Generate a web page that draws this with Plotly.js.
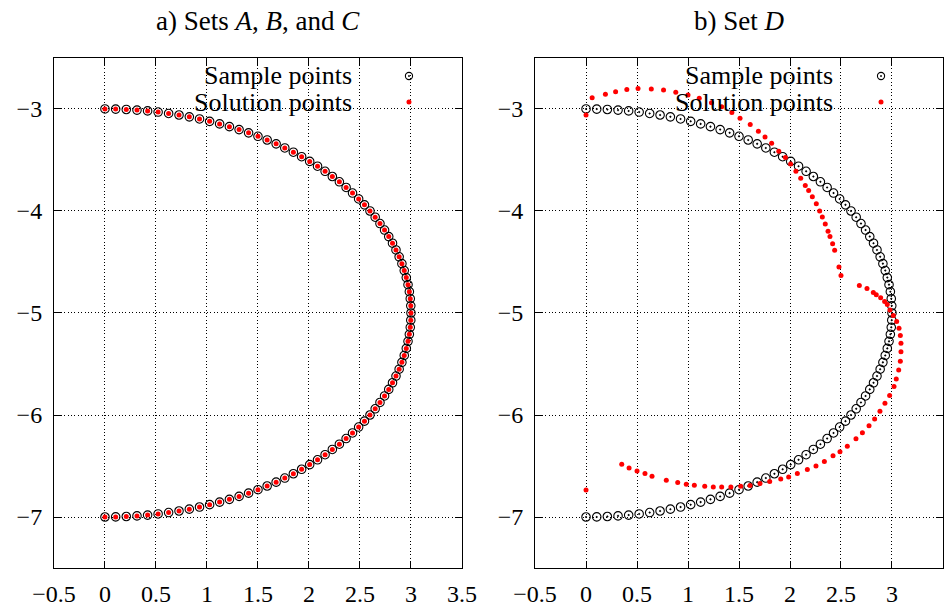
<!DOCTYPE html>
<html>
<head>
<meta charset="utf-8">
<script src="https://cdn.plot.ly/plotly-3.0.1.min.js"></script>
<style>html,body{margin:0;padding:0;background:#fff;}#chart{width:950px;height:609px;}</style>
</head>
<body>
<div id="chart"></div>
<script>
// Sample points (same in both panels)
var sampleX = [0, 0.105, 0.209, 0.314, 0.418, 0.521, 0.624, 0.726, 0.827, 0.927, 1.026, 1.124, 1.220, 1.315, 1.408, 1.500, 1.590, 1.678, 1.763, 1.847, 1.928, 2.007, 2.084, 2.158, 2.229, 2.298, 2.364, 2.427, 2.487, 2.544, 2.598, 2.649, 2.696, 2.741, 2.782, 2.819, 2.853, 2.884, 2.911, 2.934, 2.954, 2.971, 2.984, 2.993, 2.998, 3.000,
  2.998, 2.993, 2.984, 2.971, 2.954, 2.934, 2.911, 2.884, 2.853, 2.819, 2.782, 2.741, 2.696, 2.649, 2.598, 2.544, 2.487, 2.427, 2.364, 2.298, 2.229, 2.158, 2.084, 2.007, 1.928, 1.847, 1.763, 1.678, 1.590, 1.500, 1.408, 1.315, 1.220, 1.124, 1.026, 0.927, 0.827, 0.726, 0.624, 0.521, 0.418, 0.314, 0.209, 0.105, 0];
var sampleY = [-3.000, -3.001, -3.005, -3.011, -3.019, -3.030, -3.044, -3.059, -3.077, -3.098, -3.121, -3.146, -3.173, -3.202, -3.234, -3.268, -3.304, -3.342, -3.382, -3.424, -3.468, -3.514, -3.561, -3.611, -3.662, -3.714, -3.769, -3.824, -3.882, -3.940, -4.000, -4.061, -4.123, -4.187, -4.251, -4.316, -4.382, -4.449, -4.516, -4.584, -4.653, -4.722, -4.791, -4.860, -4.930, -5.000,
  -5.070, -5.140, -5.209, -5.278, -5.347, -5.416, -5.484, -5.551, -5.618, -5.684, -5.749, -5.813, -5.877, -5.939, -6.000, -6.060, -6.118, -6.176, -6.231, -6.286, -6.338, -6.389, -6.439, -6.486, -6.532, -6.576, -6.618, -6.658, -6.696, -6.732, -6.766, -6.798, -6.827, -6.854, -6.879, -6.902, -6.923, -6.941, -6.956, -6.970, -6.981, -6.989, -6.995, -6.999, -7.000];

// Solution points for sets A, B and C (coincide with the sample points)
var solutionABCX = sampleX;
var solutionABCY = sampleY;

// Solution points for set D
var solutionDX = [0.00, 0.06, 0.19, 0.29, 0.40, 0.51, 0.64, 0.76, 0.88, 1.00, 1.11, 1.23, 1.33, 1.43, 1.51, 1.61, 1.69, 1.755, 1.82, 1.89, 1.955, 2.006, 2.058, 2.105, 2.15, 2.183, 2.219, 2.258, 2.291, 2.317, 2.346, 2.373, 2.392, 2.418, 2.438, 2.48, 2.50,
  2.68, 2.755, 2.817, 2.846, 2.889, 2.928, 2.954, 2.98, 3.013, 3.046, 3.069, 3.082, 3.088, 3.088, 3.082, 3.066, 3.042, 3.02, 2.977, 2.931, 2.882, 2.83, 2.775, 2.71, 2.647, 2.562, 2.49, 2.422, 2.337, 2.255, 2.17, 2.072, 1.987, 1.909, 1.801, 1.706, 1.608, 1.517, 1.42, 1.33, 1.248, 1.164, 1.062, 0.983, 0.899, 0.787, 0.647, 0.578, 0.50, 0.422, 0.35, 0.00];
var solutionDY = [-3.06, -2.89, -2.855, -2.83, -2.81, -2.80, -2.805, -2.815, -2.835, -2.862, -2.895, -2.938, -2.978, -3.035, -3.09, -3.153, -3.218, -3.275, -3.336, -3.415, -3.476, -3.54, -3.61, -3.68, -3.75, -3.80, -3.86, -3.93, -4.00, -4.06, -4.127, -4.198, -4.25, -4.32, -4.385, -4.55, -4.633,
  -4.73, -4.76, -4.80, -4.82, -4.85, -4.888, -4.917, -4.97, -5.025, -5.084, -5.15, -5.22, -5.297, -5.38, -5.473, -5.56, -5.647, -5.72, -5.81, -5.884, -5.963, -6.04, -6.106, -6.175, -6.232, -6.307, -6.36, -6.40, -6.456, -6.50, -6.535, -6.574, -6.608, -6.627, -6.652, -6.672, -6.69, -6.699, -6.706, -6.706, -6.706, -6.699, -6.689, -6.679, -6.662, -6.64, -6.60, -6.574, -6.55, -6.52, -6.483, -6.735];

var xTicks = [-0.5, 0, 0.5, 1, 1.5, 2, 2.5, 3, 3.5];
var yTicks = [-3, -4, -5, -6, -7];
var panelTitles = ['a) Sets <i>A</i>, <i>B</i>, and <i>C</i>', 'b) Set <i>D</i>'];
var legendNames = ['Sample points', 'Solution points'];

var FONT = '"Liberation Serif", serif';
var sampleMarker = {symbol: 'circle-open-dot', size: 8.5, color: '#000', line: {width: 1.1, color: '#000'}};
var solMarker = {symbol: 'circle', size: 5, color: '#ff0000', line: {width: 0}};

var traces = [
  {x: sampleX, y: sampleY, xaxis: 'x', yaxis: 'y', mode: 'markers', name: legendNames[0], marker: sampleMarker, showlegend: false, hoverinfo: 'x+y'},
  {x: solutionABCX, y: solutionABCY, xaxis: 'x', yaxis: 'y', mode: 'markers', name: legendNames[1], marker: solMarker, showlegend: false, hoverinfo: 'x+y'},
  {x: sampleX, y: sampleY, xaxis: 'x2', yaxis: 'y2', mode: 'markers', name: legendNames[0], marker: sampleMarker, showlegend: false, hoverinfo: 'x+y'},
  {x: solutionDX, y: solutionDY, xaxis: 'x2', yaxis: 'y2', mode: 'markers', name: legendNames[1], marker: solMarker, showlegend: false, hoverinfo: 'x+y'}
];

function xax(domain, anchor) {
  return {domain: domain, anchor: anchor, range: [-0.5, 3.5], tickmode: 'array', tickvals: xTicks,
    ticktext: xTicks.map(function(v){ return (v < 0 ? '\u2212' : '') + Math.abs(v); }),
    showline: true, linecolor: '#000', linewidth: 1, mirror: 'ticks', ticks: 'inside', ticklen: 7, tickcolor: '#000', tickwidth: 1,
    showgrid: true, gridcolor: '#000', gridwidth: 1, griddash: '1px,2.4px', zeroline: false,
    tickfont: {family: FONT, size: 24, color: '#000'}, ticklabelstandoff: 4, fixedrange: true};
}
function yax(anchor) {
  return {domain: [0.0673, 0.9048], anchor: anchor, range: [-7.5, -2.5], tickmode: 'array', tickvals: yTicks,
    ticktext: yTicks.map(function(v){ return '\u2212' + Math.abs(v); }),
    showline: true, linecolor: '#000', linewidth: 1, mirror: 'ticks', ticks: 'inside', ticklen: 7, tickcolor: '#000', tickwidth: 1,
    showgrid: true, gridcolor: '#000', gridwidth: 1, griddash: '1px,2.4px', zeroline: false,
    tickfont: {family: FONT, size: 24, color: '#000'}, ticklabelstandoff: 6, fixedrange: true};
}

var panels = [
  {titleX: 0.2716, textRight: 0.3716, keyX: 0.4305},
  {titleX: 0.7779, textRight: 0.8779, keyX: 0.9274}
];
var rowY = [1 - 76/609, 1 - 102/609];

var annotations = [];
var shapes = [];
panels.forEach(function(p, i) {
  annotations.push({xref: 'paper', yref: 'paper', x: p.titleX, y: 1 - 21/609, xanchor: 'center', yanchor: 'middle',
    text: panelTitles[i], showarrow: false, font: {family: FONT, size: 27, color: '#000'}});
  legendNames.forEach(function(n, j) {
    annotations.push({xref: 'paper', yref: 'paper', x: p.textRight, y: rowY[j], xanchor: 'right', yanchor: 'middle',
      text: n, showarrow: false, font: {family: FONT, size: 26, color: '#000'}, borderpad: 0, bgcolor: 'rgba(0,0,0,0)'});
  });
  // legend keys
  shapes.push({type: 'circle', xref: 'paper', yref: 'paper', xsizemode: 'pixel', ysizemode: 'pixel',
    xanchor: p.keyX, yanchor: rowY[0], x0: -3.6, x1: 3.6, y0: -3.6, y1: 3.6, line: {color: '#000', width: 1.1}, fillcolor: 'rgba(0,0,0,0)'});
  shapes.push({type: 'circle', xref: 'paper', yref: 'paper', xsizemode: 'pixel', ysizemode: 'pixel',
    xanchor: p.keyX, yanchor: rowY[0], x0: -0.6, x1: 0.6, y0: -0.6, y1: 0.6, line: {color: '#000', width: 0.8}, fillcolor: '#000'});
  shapes.push({type: 'circle', xref: 'paper', yref: 'paper', xsizemode: 'pixel', ysizemode: 'pixel',
    xanchor: p.keyX, yanchor: rowY[1], x0: -2.5, x1: 2.5, y0: -2.5, y1: 2.5, line: {width: 0}, fillcolor: '#ff0000'});
});

var layout = {
  width: 950, height: 609,
  margin: {l: 0, r: 0, t: 0, b: 0},
  paper_bgcolor: '#fff', plot_bgcolor: '#fff',
  showlegend: false,
  font: {family: FONT, color: '#000'},
  xaxis: xax([0.0568, 0.4863], 'y'),
  yaxis: yax('x'),
  xaxis2: xax([0.5632, 0.9926], 'y2'),
  yaxis2: yax('x2'),
  annotations: annotations,
  shapes: shapes
};

Plotly.newPlot('chart', traces, layout, {staticPlot: true, displayModeBar: false});
</script>
</body>
</html>
